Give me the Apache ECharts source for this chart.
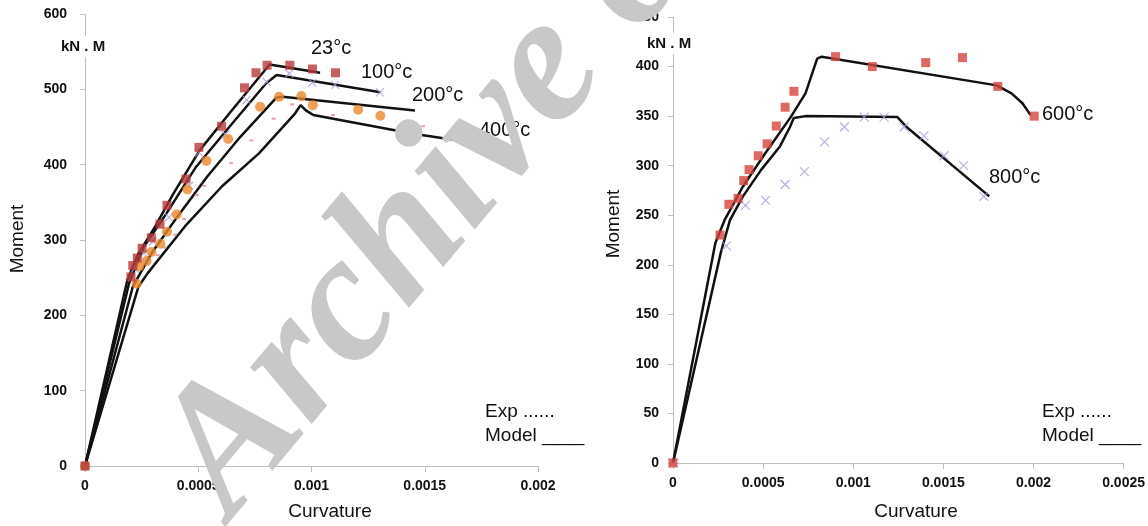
<!DOCTYPE html>
<html>
<head>
<meta charset="utf-8">
<script src="https://cdn.jsdelivr.net/npm/echarts@6/dist/echarts.min.js"></script>
<style>
  html, body { margin: 0; padding: 0; background: #fff; }
  #chart { width: 1148px; height: 526px; }
</style>
</head>
<body>
<div id="chart"></div>
<script>
// curvature / moment pairs
const exp23 = [[0,0],[0.000203,251],[0.000211,266],[0.000231,276],[0.000252,289],[0.000293,303],[0.000331,321],[0.000362,346],[0.000446,381],[0.000503,423],[0.000603,451],[0.000704,502],[0.000755,522],[0.000804,532],[0.000904,532],[0.001004,527],[0.001106,522]]
const exp100 = [[0,0],[0.00022,262],[0.00026,282],[0.0003,298],[0.00037,330],[0.00046,372],[0.000503,416],[0.00062,440],[0.000714,486],[0.000802,510],[0.000902,521],[0.001004,509],[0.001104,506],[0.001302,496]]
const exp200 = [[0,0],[0.000228,242],[0.000239,265],[0.000272,272],[0.000293,284],[0.000333,295],[0.000362,311],[0.000405,334],[0.000452,367],[0.000536,405],[0.000632,434],[0.000773,477],[0.000857,490],[0.000955,491],[0.001006,479],[0.001206,473],[0.001304,465]]
const exp400 = [[0,0],[0.000321,280],[0.00035,290],[0.000398,307],[0.000437,328],[0.000493,360],[0.000526,372],[0.000645,402],[0.000734,432],[0.000833,461],[0.000915,480],[0.001095,466],[0.001492,451],[0.001797,430]]

const model23 = [[0,0],[0.000187,247],[0.000236,282],[0.00031,318],[0.000391,362],[0.000506,419],[0.000637,468],[0.000815,533],[0.001038,522]]
const model100 = [[0,0],[0.000195,243],[0.00026,291],[0.000359,335],[0.00049,397],[0.000637,450],[0.0008,508],[0.000846,519],[0.001305,496]]
const model200 = [[0,0],[0.000211,238],[0.000293,282],[0.000408,331],[0.000539,384],[0.000686,437],[0.000845,489],[0.000873,490],[0.001457,472]]
const model400 = [[0,0],[0.000236,238],[0.000277,256],[0.000441,318],[0.000604,371],[0.000768,415],[0.000925,467],[0.000952,479],[0.000975,472],[0.001008,466],[0.001096,461],[0.00145,441],[0.001714,429]]

const exp600 = [[0,0],[0.000261,230],[0.00031,261],[0.000361,267],[0.000392,285],[0.000422,296],[0.000473,310],[0.000522,322],[0.000573,340],[0.000622,359],[0.000671,375],[0.000902,410],[0.001106,400],[0.001402,404],[0.001606,409],[0.001802,380],[0.002004,350]]
const exp800 = [[0,0],[0.000296,219],[0.000402,260],[0.000514,265],[0.000622,281],[0.000729,294],[0.000841,324],[0.000951,339],[0.001061,349],[0.001171,349],[0.001282,339],[0.001392,330],[0.001504,310],[0.001612,300],[0.001724,269]]
const model600 = [[0,0],[0.000235,222],[0.000286,245],[0.000388,279],[0.00051,312],[0.000653,349],[0.000735,373],[0.0008,408],[0.000825,410],[0.001796,381],[0.001878,373],[0.001939,363],[0.001984,351]]
const model800 = [[0,0],[0.000265,212],[0.000316,245],[0.000388,269],[0.00049,296],[0.000592,319],[0.000649,339],[0.00067,348],[0.000735,350],[0.001245,349],[0.001296,339],[0.001755,269]]

const xMaxLeft = 0.002
const xMaxRight = 0.0025
const yMaxLeft = 600
const yMaxRight = 450

const axisGray = '#bfbfbf'
const tickFont = { fontFamily: 'Liberation Sans', fontWeight: 'bold', fontSize: 14, color: '#111' }
const crossPath = 'path://M0,0L10,10M10,0L0,10'

const xAxisOf = (grid, max) => ({
  type: 'value', gridIndex: grid, min: 0, max: max, interval: 0.0005,
  axisLine: { lineStyle: { color: axisGray } },
  axisTick: { length: 6, lineStyle: { color: axisGray } },
  splitLine: { show: false },
  axisLabel: Object.assign({ margin: 13, formatter: (v) => String(+v.toFixed(4)) }, tickFont)
})
const yAxisOf = (grid, max, step, gap) => ({
  type: 'value', gridIndex: grid, min: 0, max: max, interval: step,
  axisLine: { show: true, lineStyle: { color: axisGray } },
  axisTick: { show: true, length: 5, lineStyle: { color: axisGray } },
  splitLine: { show: false },
  axisLabel: Object.assign({ margin: gap }, tickFont)
})

const line = (data, idx) => ({
  type: 'line', xAxisIndex: idx, yAxisIndex: idx, data: data, symbol: 'none',
  lineStyle: { color: '#111', width: 2.5 }, z: 3, silent: true
})
const dots = (data, idx, symbol, size, style) => ({
  type: 'scatter', xAxisIndex: idx, yAxisIndex: idx, data: data, symbol: symbol,
  symbolSize: size, itemStyle: style, z: 4, silent: true
})

const label = (x, y, text, font, more) => ({
  type: 'text', x: x, y: y, z: 50, rotation: (more && more.rotation) || 0,
  style: Object.assign({ text: text, font: font, fill: '#111' }, (more && more.style) || {})
})
const centered = { style: { align: 'center', verticalAlign: 'middle' } }
const upright = { rotation: Math.PI / 2, style: { align: 'center', verticalAlign: 'middle' } }
const unitBox = { style: { backgroundColor: '#fff', padding: [3, 2] } }

const chart = echarts.init(document.getElementById('chart'))
chart.setOption({
  animation: false,
  backgroundColor: '#fff',
  grid: [
    { left: 85, right: 610, top: 14, bottom: 60 },
    { left: 673, right: 23, top: 17, bottom: 63 }
  ],
  xAxis: [xAxisOf(0, xMaxLeft), xAxisOf(1, xMaxRight)],
  yAxis: [yAxisOf(0, yMaxLeft, 100, 18), yAxisOf(1, yMaxRight, 50, 14)],
  series: [
    dots(exp400, 0, 'rect', [4, 2], { color: '#e08c8c' }),
    dots(exp100, 0, crossPath, 8, { color: 'none', borderColor: '#a99ed8', borderWidth: 1.2 }),
    line(model23, 0), line(model100, 0), line(model200, 0), line(model400, 0),
    dots(exp200, 0, 'circle', 10, { color: '#e98a2e' }),
    dots(exp23, 0, 'rect', 9, { color: '#b43a3c' }),
    dots(exp800, 1, crossPath, 9, { color: 'none', borderColor: '#a99ed8', borderWidth: 1.2 }),
    line(model600, 1), line(model800, 1),
    dots(exp600, 1, 'rect', 9, { color: '#d4433f' })
  ],
  graphic: [
    label(59, 36, 'kN . M', 'bold 15px "Liberation Sans"', unitBox),
    label(645, 33, 'kN . M', 'bold 15px "Liberation Sans"', unitBox),
    label(311, 38, '23°c', '20px "Liberation Sans"'),
    label(361, 62, '100°c', '20px "Liberation Sans"'),
    label(412, 85, '200°c', '20px "Liberation Sans"'),
    label(479, 120, '400°c', '20px "Liberation Sans"'),
    label(1042, 104, '600°c', '20px "Liberation Sans"'),
    label(989, 167, '800°c', '20px "Liberation Sans"'),
    label(485, 402, 'Exp ......', '19px "Liberation Sans"'),
    label(485, 426, 'Model ____', '19px "Liberation Sans"'),
    label(1042, 402, 'Exp ......', '19px "Liberation Sans"'),
    label(1042, 426, 'Model ____', '19px "Liberation Sans"'),
    label(18, 239, 'Moment', '19px "Liberation Sans"', upright),
    label(614, 224, 'Moment', '19px "Liberation Sans"', upright),
    label(330, 512, 'Curvature', '19px "Liberation Sans"', centered),
    label(916, 512, 'Curvature', '19px "Liberation Sans"', centered),
    // watermark over everything
    {
      type: 'text', x: 265, y: 548, rotation: 50 * Math.PI / 180, z: 100, silent: true,
      style: { text: 'Archive of SID', font: 'italic bold 182px "Liberation Serif"', fill: '#c8c8c8', verticalAlign: 'bottom' }
    }
  ]
})
</script>
</body>
</html>
